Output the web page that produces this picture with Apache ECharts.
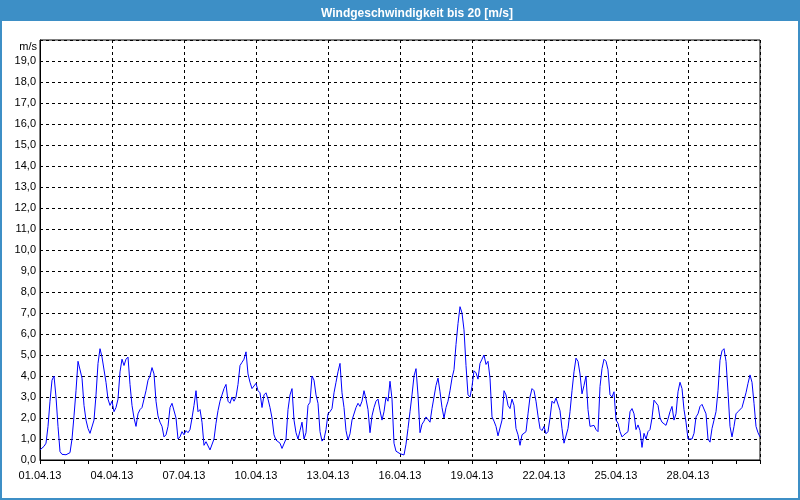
<!DOCTYPE html>
<html><head><meta charset="utf-8">
<script src="https://cdn.jsdelivr.net/npm/echarts@6/dist/echarts.min.js"></script>
<style>html,body{margin:0;padding:0;background:#fff}#c{width:800px;height:500px}</style>
</head><body><div id="c"></div>
<script>
// Wind speed [m/s], one reading every 2 hours, starting 01.04.2013 00:00
const startUTC = Date.UTC(2013, 3, 1);
const stepHours = 2;
const speedDays01to05 = [
  0.48,0.55,0.65,0.8,1.6,2.8,3.8,4.0,3.0,1.6,0.4,0.27,
  0.2,0.25,0.25,0.35,1.0,2.1,3.3,4.7,4.7,3.9,2.6,1.9,
  1.5,1.27,1.2,1.9,3.1,4.6,5.3,4.9,4.9,3.7,2.9,2.6,
  2.8,2.3,2.5,2.9,4.2,4.8,4.5,4.8,4.9,3.6,2.6,2.0,
  1.6,2.2,2.4,2.5,2.9,3.3,3.8,4.0,4.4,4.1,2.8,2.1
];
const speedDays06to10 = [
  1.8,1.6,1.1,1.2,1.6,2.5,2.7,2.7,2.0,1.0,1.1,1.35,
  1.2,1.4,1.3,1.45,2.0,2.6,3.3,2.3,2.4,1.8,0.7,0.87,
  0.9,0.48,0.5,1.0,1.75,2.35,2.8,3.1,3.4,3.6,2.8,2.7,
  3.0,2.8,3.0,3.6,4.5,4.65,4.8,5.15,4.1,3.7,3.4,3.45,
  3.65,3.3,3.2,2.5,3.1,3.2,2.9,2.5,2.0,1.2,0.95,0.95
];
const speedDays11to15 = [
  0.8,0.55,0.6,1.0,2.4,3.1,3.4,1.9,1.3,1.0,1.4,1.8,
  1.0,1.3,2.6,2.75,4.0,3.8,3.1,2.7,1.35,0.9,1.0,1.45,
  2.2,2.3,2.45,3.2,3.7,4.2,4.6,3.2,2.5,1.4,0.95,1.25,
  1.9,1.95,2.5,2.7,2.55,2.8,3.3,2.9,2.4,1.3,2.1,2.5,
  2.8,2.9,2.35,1.9,2.3,3.0,2.8,3.75,2.9,0.8,0.42,0.4
];
const speedDays16to20 = [
  0.3,0.26,0.24,0.75,1.5,2.3,3.1,4.0,4.35,3.1,1.3,1.7,
  1.85,2.05,2.0,1.8,2.45,3.0,3.55,3.9,3.25,2.5,2.0,2.5,
  2.8,3.3,3.9,4.3,5.5,6.5,7.3,7.0,6.2,4.5,3.1,3.0,
  3.5,4.25,4.15,3.85,4.6,4.8,5.0,4.55,4.7,3.9,2.05,1.85,
  1.6,1.15,1.2,1.9,3.3,3.1,2.6,2.45,2.9,2.6,1.5,1.2
];
const speedDays21to25 = [
  0.7,1.2,1.27,1.35,2.2,3.0,3.4,3.3,2.8,2.1,1.5,1.4,
  1.6,1.25,1.35,2.0,2.8,2.7,2.95,3.0,2.35,1.5,0.8,0.75,
  1.5,2.3,3.3,4.2,4.85,4.7,4.1,3.15,3.55,4.0,2.4,1.6,
  1.55,1.65,1.45,1.35,3.5,4.35,4.8,4.7,4.3,3.1,3.0,3.25,
  1.9,1.75,1.35,1.1,1.2,1.27,1.35,2.3,2.45,2.2,1.45,1.67
];
const speedDays26to30 = [
  1.4,0.6,1.27,1.0,1.35,1.45,2.0,2.85,2.85,2.6,2.0,1.8,
  1.75,1.65,1.95,2.3,2.55,1.9,2.2,3.25,3.7,3.4,2.4,1.8,
  1.0,0.95,1.0,1.27,2.05,2.2,2.55,2.65,2.6,2.2,1.0,0.85,
  1.5,1.9,2.3,3.3,4.75,5.2,5.3,4.7,3.25,1.6,1.1,1.6,
  2.2,2.3,2.3,2.5,2.55,3.2,3.65,4.05,3.7,2.7,1.6,1.3,
  1.1
];
const speed = [].concat(speedDays01to05, speedDays06to10, speedDays11to15,
  speedDays16to20, speedDays21to25, speedDays26to30);

const titleText = 'Windgeschwindigkeit bis 20 [m/s]';
const unitLabel = 'm/s';
const yMax = 20;
const xMaxHours = 720;
const labelEveryHours = 72;

function pad(n){ return (n < 10 ? '0' : '') + n; }
function dateLabel(h){
  if (h >= xMaxHours) return '';
  const d = new Date(startUTC + h * 3600e3);
  return pad(d.getUTCDate()) + '.' + pad(d.getUTCMonth() + 1) + '.' + pad(d.getUTCFullYear() % 100);
}
function yLabel(v){
  if (v >= yMax) return '';
  return v.toFixed(1).replace('.', ',');
}

const font = 'Liberation Sans, Arial, sans-serif';
const chart = echarts.init(document.getElementById('c'), null, {renderer: 'canvas'});
chart.setOption({
  backgroundColor: '#ffffff',
  animation: false,
  graphic: [
    {type: 'rect', z: 0, shape: {x: 0, y: 0, width: 800, height: 21}, style: {fill: '#3d8fc6'}},
    {type: 'rect', z: 0, shape: {x: 1, y: 1, width: 798, height: 498}, style: {fill: null, stroke: '#3d8fc6', lineWidth: 2}}
  ],
  title: {
    text: titleText, left: 316, top: 3, z: 10,
    textStyle: {color: '#ffffff', fontWeight: 'bold', fontSize: 12, fontFamily: font}
  },
  grid: {left: 40, right: 40, top: 40, bottom: 40, show: true, borderColor: '#000', borderWidth: 1, backgroundColor: '#fff'},
  xAxis: {
    type: 'value', min: 0, max: xMaxHours, interval: labelEveryHours,
    axisLine: {show: true, onZero: false, lineStyle: {color: '#000', width: 1}},
    axisTick: {show: true, length: 4, lineStyle: {color: '#000'}},
    minorTick: {show: true, splitNumber: 3, length: 4, lineStyle: {color: '#000'}},
    splitLine: {show: true, lineStyle: {color: '#000', width: 1, type: [3, 3]}},
    axisLabel: {formatter: dateLabel, color: '#000', fontFamily: font, fontSize: 11, margin: 10}
  },
  yAxis: {
    type: 'value', min: 0, max: yMax, interval: 1,
    name: unitLabel, nameLocation: 'end', nameGap: -1,
    nameTextStyle: {color: '#000', fontFamily: font, fontSize: 11, align: 'right', verticalAlign: 'top', padding: [0, 3, 0, 0]},
    axisLine: {show: true, lineStyle: {color: '#000', width: 1}},
    axisTick: {show: false},
    splitLine: {show: true, lineStyle: {color: '#000', width: 1, type: [3, 3]}},
    axisLabel: {formatter: yLabel, color: '#000', fontFamily: font, fontSize: 11, margin: 4, padding: [2, 0, 0, 0]}
  },
  series: [{
    type: 'line',
    data: speed.map((v, i) => [i * stepHours, v]),
    showSymbol: false,
    symbol: 'none',
    lineStyle: {color: '#0000ff', width: 1},
    itemStyle: {color: '#0000ff'},
    z: 5
  }]
});
</script>
</body></html>
